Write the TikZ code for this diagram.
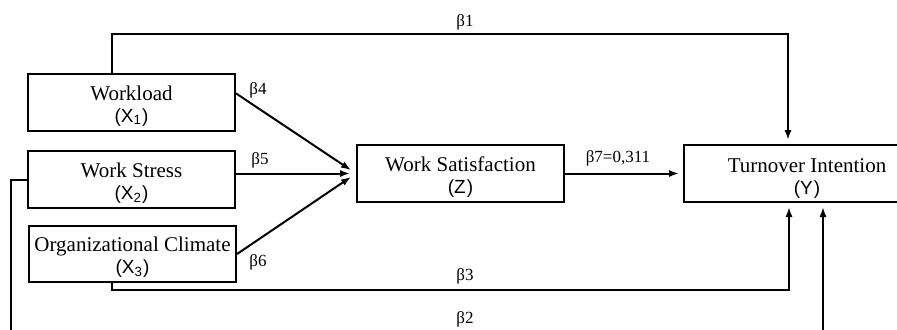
\documentclass[tikz,border=0pt]{standalone}
\usepackage{fontspec}
\setmainfont{Liberation Serif}
\setsansfont{Liberation Sans}
\usetikzlibrary{arrows.meta}

\tikzset{
  var/.style={draw, line width=1pt, minimum width=103.5pt, minimum height=28.5pt,
    inner sep=0pt, align=center, font=\fontsize{10.5}{11}\selectfont},
  link/.style={line width=1pt, arrows={-{Latex[length=5pt,width=3.6pt]}}},
  coef/.style={inner sep=0pt, font=\fontsize{8.5}{10}\selectfont},
}
\newcommand{\varlab}[2]{{\sffamily\fontsize{9.5}{11}\selectfont (#1\textsubscript{#2})}}
\newcommand{\hd}{\rule{0pt}{10.5pt}}

\begin{document}
\begin{tikzpicture}[x=0.5pt, y=-0.5pt]
\clip (0,0) rectangle (897,329);

\node[var] (wl) at (131.5,102.5) {\hd Workload\\\varlab{X}{1}};
\node[var] (ws) at (131.5,179.5) {\hd Work Stress\\\varlab{X}{2}};
\node[var, minimum height=28pt] (oc) at (132.5,254) {\hd Organizational Climate\\\varlab{X}{3}};
\node[var] (sat) at (460.5,173.5) {\hd Work Satisfaction\\\varlab{Z}{}};
\node[var, minimum width=123pt] (ti) at (807,173.5) {\rule{0pt}{12pt}Turnover Intention\\\varlab{Y}{}};

\coordinate (b1l) at (112,34);
\coordinate (b1r) at (788,34);
\coordinate (b3l) at (112,290);
\coordinate (b3r) at (789,290);
\coordinate (b2l) at (11,345);
\coordinate (b2r) at (823,345);

\draw [link, shorten >=3pt] (wl.5) -- (sat.west);
\draw [link, shorten >=3pt] (ws.east |- sat.west) -- (sat.west);
\draw [link, shorten >=3pt] (oc.east) -- (sat.west);
\draw [link, shorten >=2pt] (sat.east) -- (ti.west);

\draw [link, shorten >=2pt] (wl.north -| b1l) -- (b1l) -- (b1r) -- (ti.north -| b1r);
\draw [link, shorten >=2pt] (oc.south -| b3l) -- (b3l) -- (b3r) -- (ti.south -| b3r);
\draw [link, shorten >=2pt] (ws.west) -| (b2l) -- (b2r) -- (ti.south -| b2r);

\node[coef] (c1) at (465,22) {β1};
\node[coef] (c2) at (465,319) {β2};
\node[coef] (c3) at (465,276) {β3};
\node[coef] (c4) at (258,90) {β4};
\node[coef] (c5) at (260,160) {β5};
\node[coef] (c6) at (258,262) {β6};
\node[coef] (c7) at (618,158) {β7=0,311};
\end{tikzpicture}
\end{document}
